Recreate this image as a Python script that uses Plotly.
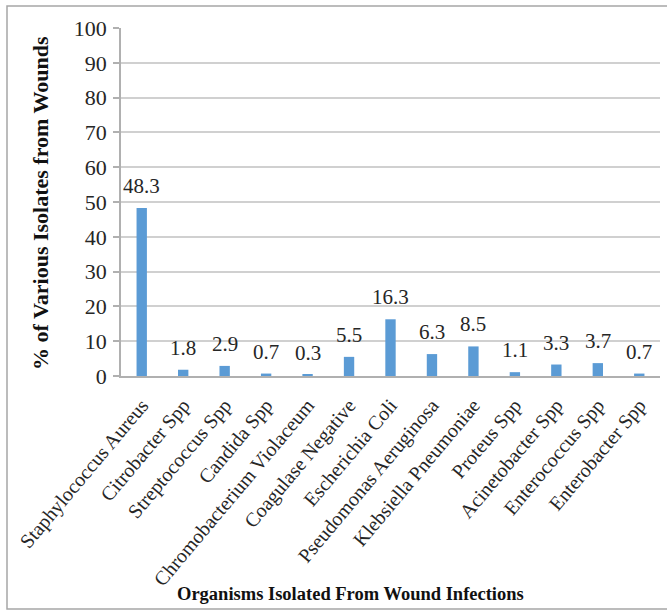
import plotly.graph_objects as go

# Organisms isolated from wound infections and their share (%)
organisms = [
    "Staphylococcus Aureus", "Citrobacter Spp", "Streptococcus Spp", "Candida Spp",
    "Chromobacterium Violaceum", "Coagulase Negative", "Escherichia Coli",
    "Pseudomonas Aeruginosa", "Klebsiella Pneumoniae", "Proteus Spp",
    "Acinetobacter Spp", "Enterococcus Spp", "Enterobacter Spp",
]
percent = [48.3, 1.8, 2.9, 0.7, 0.3, 5.5, 16.3, 6.3, 8.5, 1.1, 3.3, 3.7, 0.7]
y_ticks = [0, 10, 20, 30, 40, 50, 60, 70, 80, 90, 100]

W, H = 667, 610
L, R, T, B = 121, 7, 28, 234
pw, ph = W - L - R, H - T - B

FONT = "Liberation Serif"
TXT = "#262626"

fig = go.Figure(go.Bar(
    x=organisms, y=percent,
    marker=dict(color="#5b9bd5", line=dict(width=0)),
    width=0.25,
))

# value labels above each bar
for name, v in zip(organisms, percent):
    fig.add_annotation(x=name, y=v, text=f"{v:g}", showarrow=False,
                       yanchor="bottom", yshift=8,
                       font=dict(family=FONT, size=21, color=TXT))

def px_x(p):
    return (p - L) / pw

def px_y(p):
    return (H - B - p) / ph

# outer frame
fig.add_shape(type="rect", xref="paper", yref="paper",
              x0=px_x(7), x1=px_x(668), y0=px_y(609), y1=px_y(6),
              line=dict(color="#a6a6a6", width=1.5), layer="below")

fig.add_annotation(xref="paper", yref="paper", x=px_x(40), y=px_y(203),
                   text="<b>% of Various Isolates from Wounds</b>", textangle=-90,
                   showarrow=False, xanchor="center", yanchor="middle",
                   font=dict(family=FONT, size=22, color="#111"))
fig.add_annotation(xref="paper", yref="paper", x=px_x(350), y=px_y(594),
                   text="<b>Organisms Isolated From Wound Infections</b>",
                   showarrow=False, xanchor="center", yanchor="middle",
                   font=dict(family=FONT, size=18.5, color="#111"))

fig.update_layout(
    width=W, height=H,
    margin=dict(l=L, r=R, t=T, b=B, pad=0),
    paper_bgcolor="white", plot_bgcolor="white",
    showlegend=False,
    font=dict(family=FONT, color=TXT),
    xaxis=dict(
        tickangle=-50, tickfont=dict(family=FONT, size=20, color=TXT),
        showline=True, linecolor="#b0b0b0", linewidth=1.5,
        showgrid=False, ticks="", automargin=False, ticklabelstandoff=8,
    ),
    yaxis=dict(
        range=[0, 100], tickvals=y_ticks,
        tickfont=dict(family=FONT, size=22, color=TXT),
        showgrid=True, gridcolor="#d0d0d0", gridwidth=2,
        showline=True, linecolor="#b0b0b0", linewidth=1.5,
        ticks="outside", ticklen=6, tickcolor="#b0b0b0", tickwidth=1.5,
        zeroline=False, automargin=False, ticklabelstandoff=2,
    ),
)

fig.write_html("out.html")
